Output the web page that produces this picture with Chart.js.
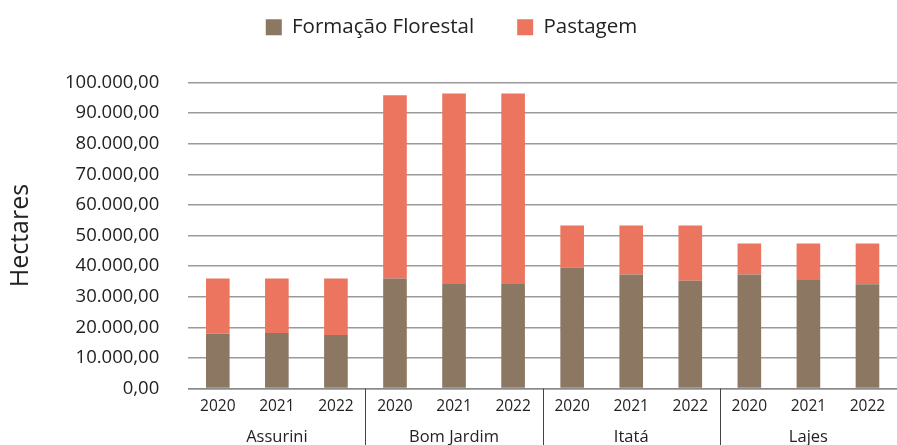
<!DOCTYPE html>
<html>
<head>
<meta charset="utf-8">
<script src="https://cdn.jsdelivr.net/npm/chart.js@4"></script>
<style>
  html, body { margin: 0; padding: 0; background: #fff; }
  #wrap { width: 897px; height: 445px; position: relative; }
</style>
</head>
<body>
<div id="wrap"><canvas id="areaChart"></canvas></div>
<script>
// Municipalities (groups) and years
const groups = ['Assurini', 'Bom Jardim', 'Itatá', 'Lajes'];
const years = ['2020', '2021', '2022'];

// Hectares, one value per group/year, in order
const formacaoFlorestal = [17900, 18200, 17500, 36000, 34200, 34200, 39600, 37300, 35200, 37300, 35500, 34100];
const pastagem = [18100, 17800, 18500, 59800, 62200, 62200, 13650, 15950, 18050, 10100, 11900, 13300];

// Y axis
const yMax = 100000;
const yStep = 10000;

const labels = [];
groups.forEach(() => years.forEach(y => labels.push(y)));

// pt-BR number format: 100.000,00
function formatBR(v) {
    const int = Math.round(v).toString().replace(/\B(?=(\d{3})+(?!\d))/g, '.');
    return int + ',00';
}

// vertical separators between the municipality groups
const groupSeparators = {
    id: 'groupSeparators',
    afterDraw(chart) {
        const x = chart.scales.x;
        const ctx = chart.ctx;
        ctx.save();
        ctx.strokeStyle = '#444';
        ctx.lineWidth = 1;
        for (let g = 1; g < groups.length; g++) {
            const i = g * years.length;
            const px = Math.round((x.getPixelForValue(i - 1) + x.getPixelForValue(i)) / 2) + 0.5;
            ctx.beginPath();
            ctx.moveTo(px, chart.chartArea.bottom);
            ctx.lineTo(px, chart.height);
            ctx.stroke();
        }
        ctx.restore();
    }
};

// extra room between the legend and the plot
const legendMargin = {
    id: 'legendMargin',
    beforeInit(chart) {
        const fit = chart.legend.fit;
        chart.legend.fit = function () {
            fit.bind(chart.legend)();
            this.height += 35;
        };
    }
};

const font = "'Open Sans', 'Noto Sans', sans-serif";

new Chart(document.getElementById('areaChart'), {
    type: 'bar',
    data: {
        labels: labels,
        datasets: [
            {
                label: 'Formação Florestal',
                data: formacaoFlorestal,
                backgroundColor: '#8b7762',
                barPercentage: 0.4,
                categoryPercentage: 1
            },
            {
                label: 'Pastagem',
                data: pastagem,
                backgroundColor: '#ec7560',
                barPercentage: 0.4,
                categoryPercentage: 1
            }
        ]
    },
    options: {
        responsive: true,
        maintainAspectRatio: false,
        animation: false,
        layout: {
            padding: { top: -26, right: 0, bottom: -4, left: 6 }
        },
        plugins: {
            legend: {
                position: 'top',
                labels: {
                    color: '#222',
                    boxWidth: 16,
                    boxHeight: 16,
                    padding: 43,
                    font: { family: font, size: 20.5 }
                }
            },
            tooltip: { enabled: false }
        },
        scales: {
            x: {
                stacked: true,
                grid: { display: false, drawTicks: false },
                border: { color: '#8a8a8a', width: 1.5 },
                ticks: {
                    color: '#222',
                    padding: 9,
                    maxRotation: 0,
                    autoSkip: false,
                    font: { family: font, size: 15.5 }
                }
            },
            x2: {
                type: 'category',
                labels: groups,
                offset: true,
                position: 'bottom',
                grid: { display: false, drawTicks: false },
                border: { display: false },
                ticks: {
                    color: '#222',
                    padding: 2,
                    font: { family: font, size: 16.5 }
                }
            },
            y: {
                stacked: true,
                min: 0,
                max: yMax,
                grid: {
                    color: '#9a9a9a',
                    lineWidth: 1.5,
                    drawTicks: false
                },
                border: { display: false },
                ticks: {
                    stepSize: yStep,
                    color: '#222',
                    padding: 29,
                    font: { family: font, size: 18.5 },
                    callback: v => formatBR(v)
                },
                title: {
                    display: true,
                    text: 'Hectares',
                    color: '#222',
                    padding: { top: 0, bottom: 0 },
                    font: { family: font, size: 25 }
                }
            }
        }
    },
    plugins: [groupSeparators, legendMargin]
});
</script>
</body>
</html>
